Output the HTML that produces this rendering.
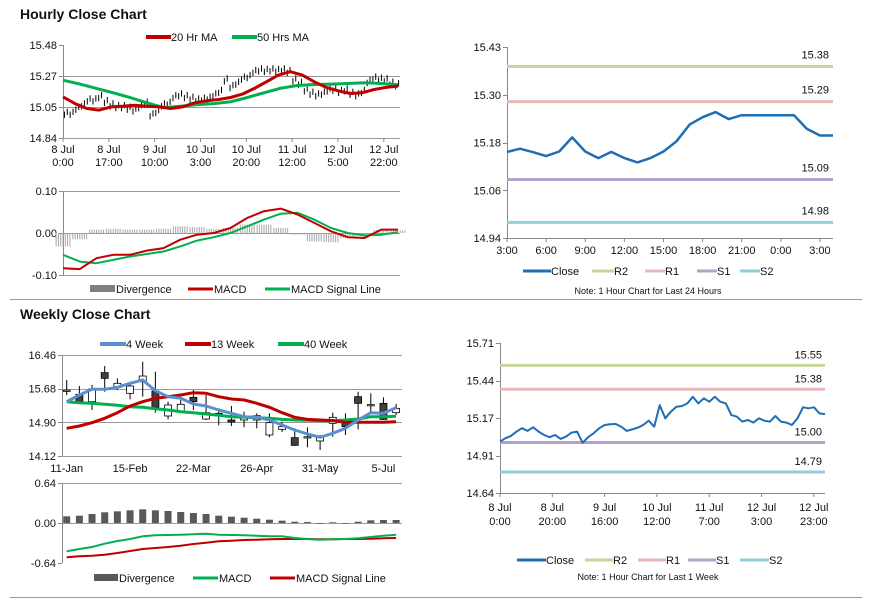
<!DOCTYPE html>
<html><head><meta charset="utf-8"><style>
body{margin:0;background:#fff;}
svg{display:block;font-family:"Liberation Sans",Arial,sans-serif;}
.t{font-size:11px;fill:#111;}
.tt{font-size:14px;font-weight:bold;fill:#111;}
.n{font-size:9px;fill:#111;}
</style></head><body>
<svg id="chart" width="873" height="601" viewBox="0 0 873 601" xmlns="http://www.w3.org/2000/svg">
<rect width="873" height="601" fill="#fff"/>
<text class="tt" x="20" y="19">Hourly Close Chart</text>
<text class="tt" x="20" y="319">Weekly Close Chart</text>
<line x1="10" y1="299.5" x2="862" y2="299.5" stroke="#999"/>
<line x1="10" y1="597.5" x2="862" y2="597.5" stroke="#999"/>
<g>
<line x1="146" y1="37" x2="171" y2="37" stroke="#c00000" stroke-width="4"/><text class="t" x="171" y="41">20 Hr MA</text>
<line x1="232" y1="37" x2="257" y2="37" stroke="#00b050" stroke-width="4"/><text class="t" x="257" y="41">50 Hrs MA</text>
</g>
<g>
<rect x="90" y="285" width="25" height="7" fill="#808080"/><text class="t" x="116" y="293">Divergence</text>
<line x1="188" y1="289" x2="213" y2="289" stroke="#c00000" stroke-width="3"/><text class="t" x="214" y="293">MACD</text>
<line x1="265" y1="289" x2="290" y2="289" stroke="#00b050" stroke-width="3"/><text class="t" x="291" y="293">MACD Signal Line</text>
</g>
<g>
<line x1="100" y1="344" x2="126" y2="344" stroke="#5b8fcf" stroke-width="4"/><text class="t" x="126" y="348">4 Week</text>
<line x1="185" y1="344" x2="211" y2="344" stroke="#c00000" stroke-width="4"/><text class="t" x="211" y="348">13 Week</text>
<line x1="278" y1="344" x2="304" y2="344" stroke="#00b050" stroke-width="4"/><text class="t" x="304" y="348">40 Week</text>
</g>
<g>
<rect x="94" y="574" width="24" height="7" fill="#595959"/><text class="t" x="119" y="582">Divergence</text>
<line x1="193" y1="578" x2="218" y2="578" stroke="#00b050" stroke-width="3"/><text class="t" x="219" y="582">MACD</text>
<line x1="270" y1="578" x2="295" y2="578" stroke="#c00000" stroke-width="3"/><text class="t" x="296" y="582">MACD Signal Line</text>
</g>
<g>
<line x1="523" y1="271" x2="551" y2="271" stroke="#1f6eb5" stroke-width="3"/><text class="t" x="551" y="275">Close</text>
<line x1="592" y1="271" x2="614" y2="271" stroke="#c3d69b" stroke-width="3"/><text class="t" x="614" y="275">R2</text>
<line x1="645" y1="271" x2="665" y2="271" stroke="#e6b9b8" stroke-width="3"/><text class="t" x="665" y="275">R1</text>
<line x1="697" y1="271" x2="717" y2="271" stroke="#b3a2c7" stroke-width="3"/><text class="t" x="717" y="275">S1</text>
<line x1="740" y1="271" x2="760" y2="271" stroke="#93cddd" stroke-width="3"/><text class="t" x="760" y="275">S2</text>
</g>
<text class="n" x="648" y="294" text-anchor="middle">Note: 1 Hour Chart for Last 24 Hours</text>
<g>
<line x1="517" y1="560" x2="546" y2="560" stroke="#1f6eb5" stroke-width="3"/><text class="t" x="546" y="564">Close</text>
<line x1="585" y1="560" x2="613" y2="560" stroke="#c3d69b" stroke-width="3"/><text class="t" x="613" y="564">R2</text>
<line x1="638" y1="560" x2="666" y2="560" stroke="#e6b9b8" stroke-width="3"/><text class="t" x="666" y="564">R1</text>
<line x1="688" y1="560" x2="716" y2="560" stroke="#b3a2c7" stroke-width="3"/><text class="t" x="716" y="564">S1</text>
<line x1="740" y1="560" x2="769" y2="560" stroke="#93cddd" stroke-width="3"/><text class="t" x="769" y="564">S2</text>
</g>
<text class="n" x="648" y="580" text-anchor="middle">Note: 1 Hour Chart for Last 1 Week</text>
</svg>
<script>
const hCloses=[15.008,15.008,15.043,15.066,15.100,15.100,15.123,15.089,15.066,15.054,15.054,15.043,15.031,15.054,15.077,14.997,15.020,15.066,15.077,15.123,15.135,15.123,15.112,15.100,15.105,15.112,15.135,15.158,15.238,15.192,15.215,15.250,15.261,15.296,15.307,15.303,15.307,15.303,15.307,15.296,15.238,15.215,15.169,15.146,15.135,15.146,15.169,15.174,15.158,15.169,15.146,15.135,15.158,15.227,15.250,15.243,15.238,15.215,15.204];
const hMA20=[15.123,15.077,15.043,15.031,15.054,15.059,15.066,15.059,15.054,15.043,15.054,15.082,15.096,15.105,15.119,15.142,15.181,15.227,15.273,15.296,15.273,15.227,15.188,15.165,15.146,15.151,15.174,15.188,15.197];
const hMA50=[15.238,15.211,15.181,15.151,15.119,15.082,15.049,15.059,15.070,15.077,15.089,15.119,15.151,15.183,15.201,15.208,15.211,15.215,15.220,15.215,15.206];
const hYTicks=["15.48","15.27","15.05","14.84"];
const hXLabels=[["8 Jul","0:00"],["8 Jul","17:00"],["9 Jul","10:00"],["10 Jul","3:00"],["10 Jul","20:00"],["11 Jul","12:00"],["12 Jul","5:00"],["12 Jul","22:00"]];
const hMACD=[-0.084,-0.086,-0.060,-0.052,-0.052,-0.042,-0.036,-0.016,-0.004,0,0.012,0.036,0.052,0.058,0.044,0.024,0.004,-0.010,-0.012,0.008,0.008];
const hSignal=[-0.052,-0.068,-0.072,-0.064,-0.056,-0.050,-0.044,-0.032,-0.018,-0.010,0,0.016,0.032,0.046,0.048,0.032,0.012,0,-0.006,-0.004,0.002];
const hDiverg=[-0.032,-0.015,0.008,0.010,0.008,0.008,0.010,0.016,0.014,0.010,0.012,0.020,0.020,0.012,-0.004,-0.020,-0.022,-0.012,-0.006,0.008,0.006];
const hMacdTicks=["0.10","0.00","-0.10"];
const dClose=[15.161,15.169,15.160,15.150,15.162,15.198,15.162,15.145,15.161,15.145,15.134,15.145,15.162,15.188,15.231,15.250,15.263,15.245,15.255,15.255,15.255,15.255,15.255,15.220,15.203,15.203];
const dXLabels=["3:00","6:00","9:00","12:00","15:00","18:00","21:00","0:00","3:00"];
const dYTicks=["15.43","15.30","15.18","15.06","14.94"];
const dLevels=[15.38,15.29,15.09,14.98];
const dLevelLabels=["15.38","15.29","15.09","14.98"];
const wOpen=[15.634,15.549,15.379,16.051,15.726,15.572,15.842,15.626,15.047,15.163,15.479,14.977,15.109,14.954,14.954,14.954,14.607,14.738,14.545,14.560,14.468,14.877,14.892,15.495,15.302,15.340,15.124];
const wHigh=[15.881,15.742,15.765,16.205,15.919,15.842,16.305,16.074,15.379,15.417,15.649,15.533,15.224,15.278,15.147,15.109,15.109,14.915,14.761,14.784,14.607,15.124,15.109,15.610,15.572,15.479,15.325];
const wLow=[15.533,15.360,15.186,15.610,15.649,15.433,15.495,15.124,14.969,15.109,15.186,14.954,14.830,14.815,14.784,14.761,14.553,14.676,14.352,14.321,14.259,14.568,14.607,14.738,15.147,14.954,15.070];
const wClose=[15.645,15.379,15.672,15.919,15.804,15.742,15.973,15.248,15.302,15.317,15.379,15.124,15.047,14.908,15.031,15.054,14.892,14.800,14.367,14.565,14.568,15.016,14.800,15.340,15.310,14.969,15.224];
const w4=[15.379,15.533,15.665,15.665,15.711,15.804,15.881,15.634,15.495,15.456,15.325,15.278,15.186,15.109,15.031,15.016,14.954,14.838,14.722,14.630,14.553,14.645,14.761,14.954,15.124,15.109,15.240];
const w13=[14.761,14.815,14.892,14.993,15.124,15.278,15.379,15.456,15.495,15.533,15.587,15.572,15.495,15.441,15.417,15.340,15.248,15.124,15.016,14.969,14.954,14.939,14.900,14.900,14.900,14.900,14.915];
const w40=[15.379,15.356,15.340,15.317,15.294,15.263,15.248,15.217,15.186,15.147,15.124,15.093,15.062,15.031,15.016,15.008,14.993,14.969,14.954,14.946,14.939,14.939,14.954,14.977,15.031,15.031,15.039];
const wYTicks=["16.46","15.68","14.90","14.12"];
const wXLabels=["11-Jan","15-Feb","22-Mar","26-Apr","31-May","5-Jul"];
const wDiverg=[0.107,0.117,0.144,0.171,0.187,0.203,0.219,0.203,0.192,0.176,0.160,0.144,0.117,0.101,0.085,0.069,0.053,0.037,0.021,0.016,-0.012,0.011,-0.010,0.021,0.043,0.048,0.048];
const wMACD=[-0.453,-0.416,-0.384,-0.331,-0.288,-0.256,-0.213,-0.197,-0.192,-0.187,-0.181,-0.171,-0.187,-0.192,-0.197,-0.203,-0.213,-0.213,-0.240,-0.256,-0.267,-0.261,-0.256,-0.245,-0.224,-0.203,-0.187];
const wSignal=[-0.549,-0.533,-0.523,-0.507,-0.480,-0.448,-0.416,-0.400,-0.384,-0.363,-0.336,-0.315,-0.293,-0.283,-0.272,-0.267,-0.261,-0.256,-0.256,-0.256,-0.261,-0.261,-0.256,-0.256,-0.251,-0.245,-0.240];
const wMacdTicks=["0.64","0.00","-0.64"];
const kClose=[15.007,15.031,15.047,15.078,15.102,15.083,15.109,15.078,15.054,15.038,15.054,15.026,15.042,15.071,15.078,14.998,15.038,15.066,15.102,15.125,15.130,15.132,15.113,15.083,15.094,15.106,15.125,15.156,15.113,15.267,15.173,15.220,15.255,15.260,15.279,15.326,15.279,15.315,15.291,15.326,15.291,15.279,15.196,15.184,15.149,15.161,15.142,15.173,15.156,15.149,15.189,15.149,15.142,15.125,15.173,15.251,15.244,15.251,15.208,15.203];
const kXLabels=[["8 Jul","0:00"],["8 Jul","20:00"],["9 Jul","16:00"],["10 Jul","12:00"],["11 Jul","7:00"],["12 Jul","3:00"],["12 Jul","23:00"]];
const kYTicks=["15.71","15.44","15.17","14.91","14.64"];
const kLevels=[15.55,15.38,15.00,14.79];
const kLevelLabels=["15.55","15.38","15.00","14.79"];

const NS="http://www.w3.org/2000/svg";
const svg=document.getElementById('chart');
const levelColors=["#c3d69b","#e6b9b8","#b3a2c7","#93cddd"];
function mk(tag,a,parent){const e=document.createElementNS(NS,tag);for(const k in a)e.setAttribute(k,a[k]);(parent||svg).appendChild(e);return e;}
function lin(d0,d1,r0,r1){return v=>r0+(v-d0)/(d1-d0)*(r1-r0);}
function txt(x,y,s,anchor,name){const t=mk('text',{x:x,y:y,'class':'t','text-anchor':anchor});t.textContent=s;


return t;}
function yAxis(x0,x1,yT,yB,ticks,grid,name){
  const ax=mk('line',{x1:x0+0.5,y1:yT,x2:x0+0.5,y2:yB,stroke:'#888'});
  
  
  ticks.forEach((s,i)=>{const y=yT+i*(yB-yT)/(ticks.length-1);
    if(grid[i]){const g=mk('line',{x1:x0,y1:Math.round(y)+0.5,x2:x1,y2:Math.round(y)+0.5,stroke:'#999'});
      
      }
    const tk=mk('line',{x1:x0-4,y1:Math.round(y)+0.5,x2:x0,y2:Math.round(y)+0.5,stroke:'#888'});
    
    
    txt(x0-6,y+4,s,'end',name+'-y-tick-label');});
}
function poly(xs,ys,color,w,name){const p=mk('polyline',{points:xs.map((x,i)=>x.toFixed(1)+','+ys[i].toFixed(1)).join(' '),fill:'none',stroke:color,'stroke-width':w,'stroke-linejoin':'round'});
  
  
  return p;}

(function(){
  const x0=63,x1=400,yT=45,yB=138;
  const y=lin(15.48,14.84,yT,yB);
  yAxis(x0,x1,yT,yB,hYTicks,[false,true,true,true],'hourly-price');
  const step=(x1-x0)/125*17;
  hXLabels.forEach((l,i)=>{const x=x0+i*step;
    const tk=mk('line',{x1:x,y1:yB,x2:x,y2:yB+4,stroke:'#888'});
    
    
    txt(x,yB+15,l[0],'middle','hourly-x-label');txt(x,yB+28,l[1],'middle','hourly-x-label');});
  const bw=(x1-x0)/hCloses.length;
  hCloses.forEach((c,i)=>{
    [0.25,0.75].forEach((f,k)=>{const x=x0+(i+f)*bw;const off=k?0.012:-0.008;
      const b=mk('line',{x1:x,y1:y(c+off+0.022),x2:x,y2:y(c+off-0.022),stroke:'#000','stroke-width':1});
      
      });});
  poly(hMA50.map((v,i)=>x0+i*335/(hMA50.length-1)),hMA50.map(y),'#00b050',3,'ma-50-line');
  poly(hMA20.map((v,i)=>x0+i*335/(hMA20.length-1)),hMA20.map(y),'#c00000',3,'ma-20-line');
})();
(function(){
  const x0=63,x1=400,yT=191,yB=275;
  const y=lin(0.10,-0.10,yT,yB);
  yAxis(x0,x1,yT,yB,hMacdTicks,[true,true,true],'hourly-macd');
  const n=hDiverg.length,st=335/(n-1);
  hDiverg.forEach((v,i)=>{const x=x0+i*st;const a=y(0),b=y(v);
    for(let k=-3;k<=3;k++){
      const r=mk('line',{x1:x+k*2.3,y1:a,x2:x+k*2.3,y2:b,stroke:'#a6a6a6','stroke-width':1});
      
      }});
  const xs=hMACD.map((v,i)=>x0+i*st);
  poly(xs,hSignal.map(y),'#00b050',2,'hourly-macd-signal-line');
  poly(xs,hMACD.map(y),'#c00000',2,'hourly-macd-line');
})();
(function(){
  const x0=507,x1=833,yT=47,yB=238;
  const y=lin(15.43,14.94,yT,yB);
  yAxis(x0,x1,yT,yB,dYTicks,[false,false,false,false,false],'day-close');
  const bx=mk('line',{x1:x0,y1:yB+0.5,x2:x1,y2:yB+0.5,stroke:'#888'});
  
  
  const st=(x1-x0)/(dClose.length-1);
  dXLabels.forEach((s,i)=>{const x=x0+i*3*st;
    const tk=mk('line',{x1:x,y1:yB,x2:x,y2:yB+4,stroke:'#888'});
    
    
    txt(x,yB+16,s,'middle','day-x-label');});
  dLevels.forEach((v,i)=>{const l=mk('line',{x1:x0,y1:y(v),x2:x1,y2:y(v),stroke:levelColors[i],'stroke-width':3});
    
    
    txt(x1-4,y(v)-8,dLevelLabels[i],'end','day-level-label');});
  poly(dClose.map((v,i)=>x0+i*st),dClose.map(y),'#1f6eb5',2.5,'day-close-line');
})();
(function(){
  const x0=62,x1=402,yT=355,yB=456;
  const y=lin(16.46,14.12,yT,yB);
  yAxis(x0,x1,yT,yB,wYTicks,[true,true,true,true],'weekly-price');
  const st=12.67,xc=i=>66.7+i*st;
  wXLabels.forEach((s,i)=>{const x=xc(i*5);
    txt(x,yB+16,s,'middle','weekly-x-label');});
  wOpen.forEach((o,i)=>{const x=xc(i),c=wClose[i];
    const w=mk('line',{x1:x,y1:y(wHigh[i]),x2:x,y2:y(wLow[i]),stroke:'#000'});
    
    
    const top=Math.min(y(o),y(c)),h=Math.max(Math.abs(y(o)-y(c)),1.2);
    const r=mk('rect',{x:x-3.5,y:top,width:7,height:h,fill:c<o?'#404040':'#fff',stroke:'#000','stroke-width':0.8});
    
    });
  const xs=w4.map((v,i)=>xc(i));
  poly(xs,w40.map(y),'#00b050',3,'week-40-line');
  poly(xs,w13.map(y),'#c00000',3,'week-13-line');
  poly(xs,w4.map(y),'#5b8fcf',3,'week-4-line');
})();
(function(){
  const x0=62,x1=402,yT=483,yB=563;
  const y=lin(0.64,-0.64,yT,yB);
  yAxis(x0,x1,yT,yB,wMacdTicks,[true,true,false],'weekly-macd');
  const xc=i=>66.7+i*12.67;
  wDiverg.forEach((v,i)=>{const a=y(0),b=y(v);
    const r=mk('rect',{x:xc(i)-3.5,y:Math.min(a,b),width:7,height:Math.max(Math.abs(a-b),0.5),fill:'#595959'});
    
    });
  const xs=wMACD.map((v,i)=>xc(i));
  poly(xs,wSignal.map(y),'#c00000',2,'weekly-macd-signal-line');
  poly(xs,wMACD.map(y),'#00b050',2,'weekly-macd-line');
})();
(function(){
  const x0=500,x1=825,yT=343,yB=493;
  const y=lin(15.71,14.64,yT,yB);
  yAxis(x0,x1,yT,yB,kYTicks,[false,false,false,false,false],'week-close');
  const bx=mk('line',{x1:x0,y1:yB+0.5,x2:x1,y2:yB+0.5,stroke:'#888'});
  
  
  kXLabels.forEach((l,i)=>{const x=x0+i*52.3;
    const tk=mk('line',{x1:x,y1:yB,x2:x,y2:yB+4,stroke:'#888'});
    
    
    txt(x,yB+18,l[0],'middle','week-x-label');txt(x,yB+32,l[1],'middle','week-x-label');});
  kLevels.forEach((v,i)=>{const l=mk('line',{x1:x0,y1:y(v),x2:x1,y2:y(v),stroke:levelColors[i],'stroke-width':3});
    
    
    txt(x1-3,y(v)-7,kLevelLabels[i],'end','week-level-label');});
  const st=(x1-x0)/(kClose.length-1);
  poly(kClose.map((v,i)=>x0+i*st),kClose.map(y),'#1f6eb5',2,'week-close-line');
})();
</script>
</body></html>
